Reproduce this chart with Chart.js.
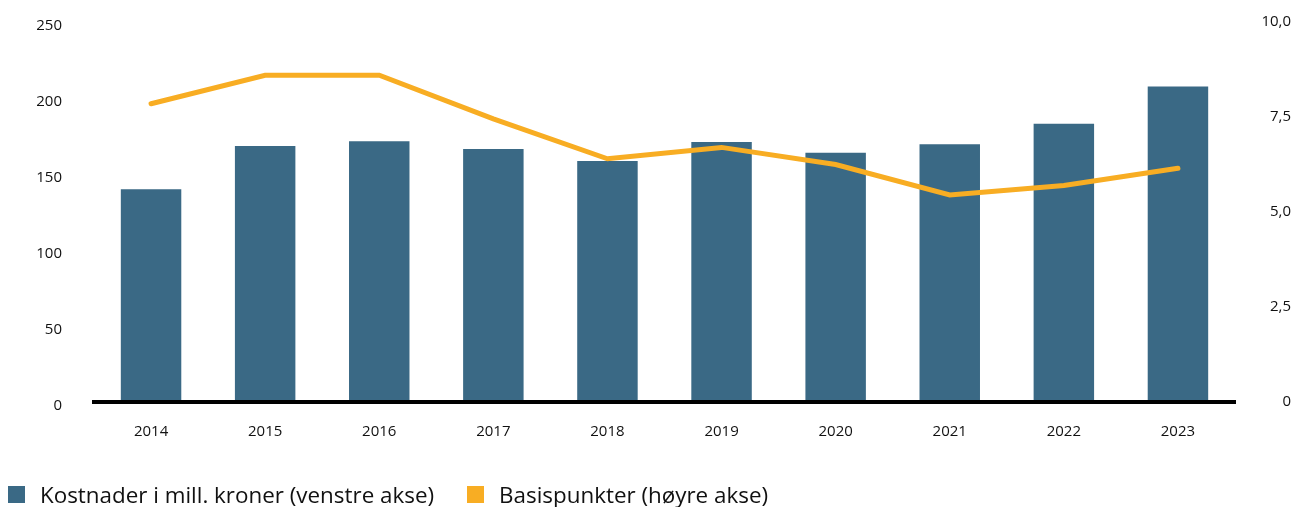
<!DOCTYPE html>
<html>
<head>
<meta charset="utf-8">
<script src="https://cdn.jsdelivr.net/npm/chart.js@4"></script>
<style>
    html, body { margin: 0; padding: 0; background: #fff; }
    #wrap { position: relative; width: 1298px; height: 507px; }
    #legend { position: absolute; left: 8px; top: 479px; display: flex; font-family: "Open Sans", sans-serif; font-size: 22.4px; color: #111; }
    .item { display: flex; align-items: center; margin-right: 33px; }
    .box { width: 17px; height: 17px; margin-right: 15px; }
</style>
</head>
<body>
<div id="wrap">
    <canvas id="chart" width="1298" height="507"></canvas>
    <div id="legend"></div>
</div>
<script>
const years = ['2014', '2015', '2016', '2017', '2018', '2019', '2020', '2021', '2022', '2023'];
const kostnader = [140, 168.5, 171.5, 166.5, 158.5, 171, 164, 169.5, 183, 207.5];
const basispunkter = [7.85, 8.6, 8.6, 7.45, 6.4, 6.7, 6.25, 5.45, 5.7, 6.15];
const barLabel = 'Kostnader i mill. kroner (venstre akse)';
const lineLabel = 'Basispunkter (høyre akse)';
const barColor = '#3a6985';
const lineColor = '#f8ad23';

const tickFont = { family: '"Open Sans", sans-serif', size: 15 };

// fixed axis sizes; drop the label overflow padding so layout.padding decides the top
function fixWidth(w) {
    return function (scale) {
        scale.width = w;
        scale.paddingTop = 0;
        scale.paddingBottom = 0;
    };
}

const ctx = document.getElementById('chart').getContext('2d');
const chart = new Chart(ctx, {
    type: 'bar',
    data: {
        labels: years,
        datasets: [{
            type: 'line',
            label: lineLabel,
            data: basispunkter,
            yAxisID: 'y1',
            borderColor: lineColor,
            backgroundColor: lineColor,
            borderWidth: 5,
            borderCapStyle: 'round',
            pointRadius: 0,
            tension: 0,
            order: 0
        }, {
            label: barLabel,
            data: kostnader,
            yAxisID: 'y',
            backgroundColor: barColor,
            barPercentage: 0.53,
            categoryPercentage: 1,
            order: 1
        }]
    },
    options: {
        responsive: false,
        animation: false,
        layout: { padding: { top: 22, right: 7, bottom: 0, left: 0 } },
        plugins: {
            legend: { display: false },
            tooltip: { enabled: false }
        },
        scales: {
            x: {
                grid: { display: false },
                border: { display: true, color: '#000', width: 4, z: 1 },
                ticks: { color: '#111', font: tickFont, padding: 13, maxRotation: 0 },
                afterFit: function (scale) { scale.height = 105; }
            },
            y: {
                position: 'left',
                min: 0,
                max: 250,
                grid: { display: false },
                border: { display: false },
                ticks: { stepSize: 50, color: '#111', font: tickFont, padding: 24, labelOffset: 4 },
                afterFit: fixWidth(94)
            },
            y1: {
                position: 'right',
                min: 0,
                max: 10,
                grid: { display: false },
                border: { display: false },
                ticks: {
                    stepSize: 2.5,
                    color: '#111',
                    font: tickFont,
                    crossAlign: 'far',
                    callback: function (v) { return v === 0 ? '0' : v.toFixed(1).replace('.', ','); }
                },
                afterFit: fixWidth(56)
            }
        }
    }
});

// Legend in bar-first order
const legend = document.getElementById('legend');
[[barLabel, barColor], [lineLabel, lineColor]].forEach(function (it) {
    const item = document.createElement('div');
    item.className = 'item';
    const box = document.createElement('span');
    box.className = 'box';
    box.style.background = it[1];
    const txt = document.createElement('span');
    txt.textContent = it[0];
    item.appendChild(box);
    item.appendChild(txt);
    legend.appendChild(item);
});
</script>
</body>
</html>
